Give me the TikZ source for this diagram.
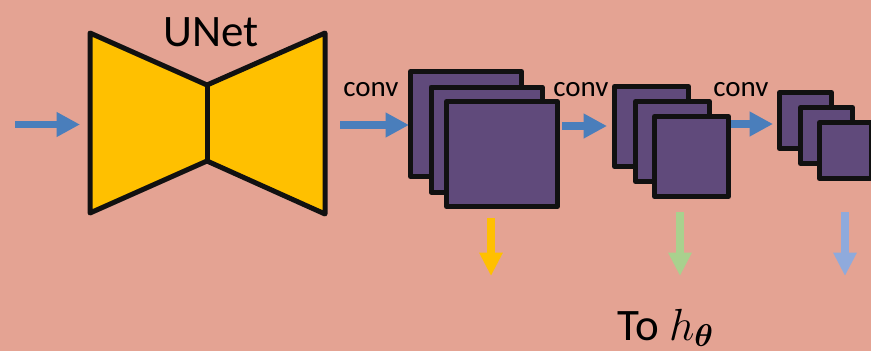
\documentclass[tikz,border=0pt]{standalone}
\usepackage{fix-cm}
\usepackage{amsmath}
\usepackage{fontspec}
\setmainfont{Carlito}
\usetikzlibrary{arrows.meta}
\definecolor{bgc}{HTML}{E4A393}
\definecolor{unetc}{HTML}{FFC000}
\definecolor{sqc}{HTML}{604A7B}
\definecolor{edgec}{HTML}{111111}
\definecolor{arrblue}{HTML}{4A7EBB}
\definecolor{arryel}{HTML}{FFC000}
\definecolor{arrgrn}{HTML}{A9D18E}
\definecolor{arrlb}{HTML}{8FAADC}
\tikzset{
  sqbox/.style 2 args={draw=edgec, fill=sqc, line width=3.75pt, line join=round,
    inner sep=0pt, minimum width=#1*0.75pt, minimum height=#2*0.75pt},
  harrow/.style={draw=arrblue, line width=5.6pt,
    -{Triangle[length=17.5pt,width=17.5pt]}},
  varrow/.style={draw=#1, line width=6pt,
    -{Triangle[length=17.5pt,width=16.5pt]}},
  convlbl/.style={anchor=base west, inner sep=0pt,
    font=\fontsize{21.75pt}{26pt}\selectfont},
  biglbl/.style={anchor=base west, inner sep=0pt,
    font=\fontsize{33.75pt}{40pt}\selectfont},
}
\begin{document}
\begin{tikzpicture}[x=0.75pt,y=-0.75pt]
\useasboundingbox (0,0) rectangle (871,351);
\clip (0,0) rectangle (871,351);
\fill[bgc] (0,0) rectangle (871,351);

% UNet bowtie
\coordinate (ul1) at (90,33);
\coordinate (um1) at (207,85);
\coordinate (ur1) at (325,33);
\coordinate (ur2) at (325,214);
\coordinate (um2) at (207,161);
\coordinate (ul2) at (90,213);
\draw[draw=edgec, fill=unetc, line width=3.75pt, line join=round]
  (ul1) -- (um1) -- (ur1) -- (ur2) -- (um2) -- (ul2) -- cycle;
\draw[draw=edgec, line width=3.75pt] (um1) -- (um2);
\node[biglbl] (unetlbl) at (163,46) {UNet};

% horizontal arrows
\coordinate (in0) at (15,124.5);
\coordinate (in1) at (80,124.5);
\draw[harrow] (in0) -- (in1);
\coordinate (a2s) at (340,125);
\coordinate (a2e) at (409,125);
\draw[harrow] (a2s) -- (a2e);
\coordinate (a3s) at (562,126);
\coordinate (a3e) at (607,126);
\draw[harrow] (a3s) -- (a3e);
\coordinate (a4s) at (729,124);
\coordinate (a4e) at (773,124);
\draw[harrow] (a4s) -- (a4e);

% stack 1
\node[sqbox={111}{105}] (b1) at (466,124) {};
\node[sqbox={111}{105}] (m1) at (486.5,139.5) {};
\node[sqbox={111}{105}] (f1) at (502,154) {};
% stack 2
\node[sqbox={74}{80}] (b2) at (651.5,126.5) {};
\node[sqbox={74}{80}] (m2) at (672.5,141.5) {};
\node[sqbox={74}{80}] (f2) at (691.5,156.5) {};
% stack 3
\node[sqbox={52}{56}] (b3) at (805.5,120.5) {};
\node[sqbox={52}{56}] (m3) at (826.5,135.5) {};
\node[sqbox={52}{56}] (f3) at (845.5,150.5) {};

% conv labels
\node[convlbl] (c1) at (343,96) {conv};
\node[convlbl] (c2) at (553,96) {conv};
\node[convlbl] (c3) at (713,96) {conv};

% down arrows
\coordinate (d1s) at (491,218);
\coordinate (d1e) at (491,276);
\draw[varrow=arryel] (d1s) -- (d1e);
\coordinate (d2s) at (680,212);
\coordinate (d2e) at (680,276);
\draw[varrow=arrgrn] (d2s) -- (d2e);
\coordinate (d3s) at (845,212);
\coordinate (d3e) at (845,276);
\draw[varrow=arrlb] (d3s) -- (d3e);

\node[biglbl] (toh) at (617,340) {To $h_{\boldsymbol{\theta}}$};
\end{tikzpicture}
\end{document}
